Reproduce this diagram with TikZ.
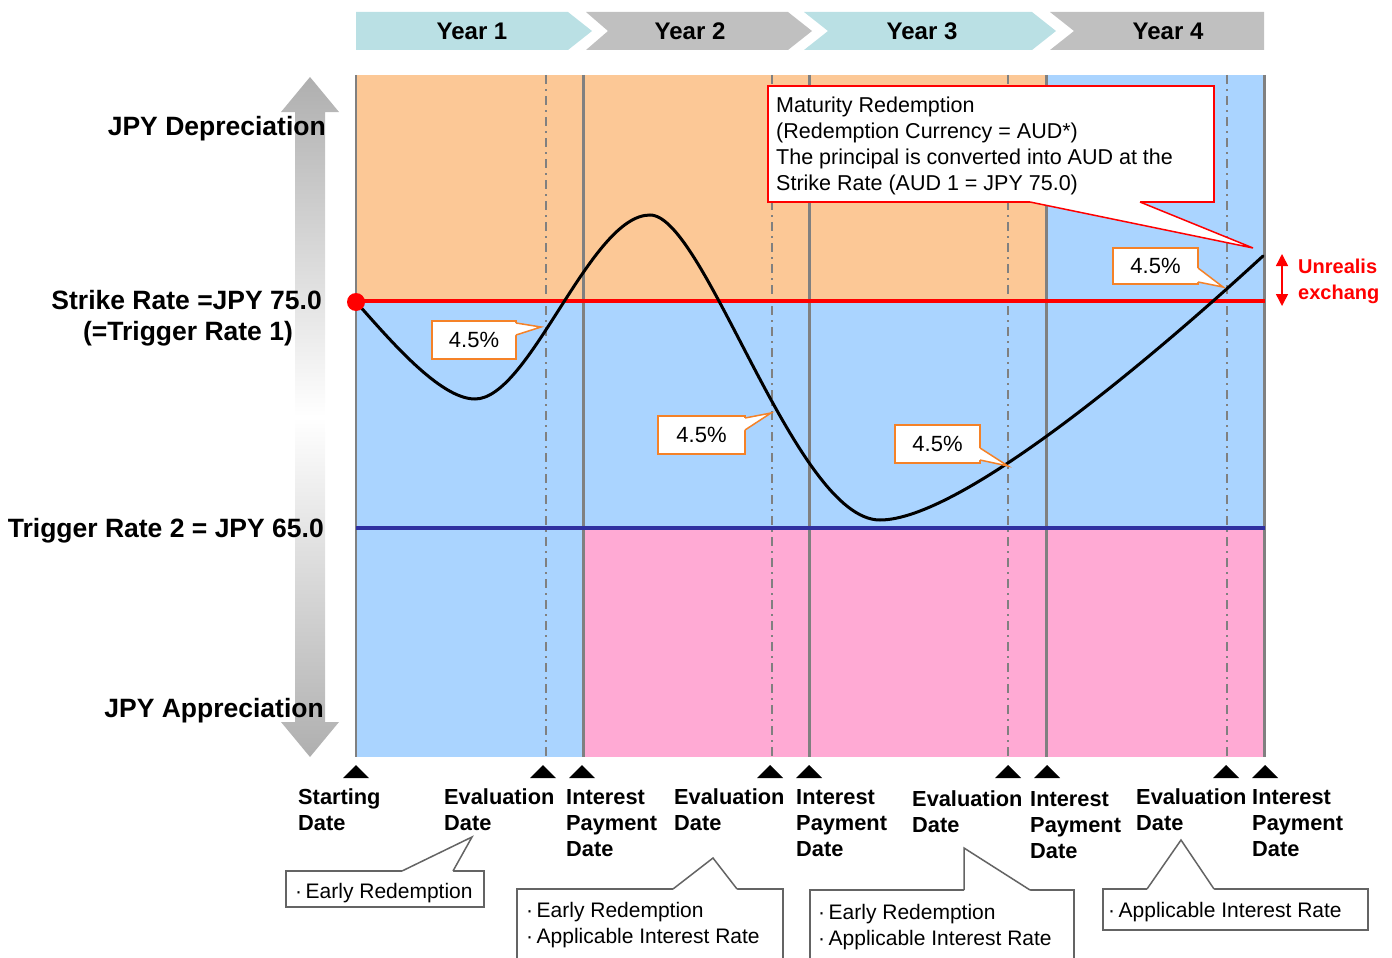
\documentclass[tikz,border=0pt]{standalone}
\usepackage{fontspec}
\setmainfont{Liberation Sans}
\usetikzlibrary{arrows.meta}
\definecolor{orng}{RGB}{252,200,150}
\definecolor{lblue}{RGB}{170,212,255}
\definecolor{lpink}{RGB}{255,170,212}
\definecolor{tealb}{RGB}{186,224,228}
\definecolor{grayb}{RGB}{192,192,192}
\definecolor{gridg}{RGB}{128,128,128}
\definecolor{dblue}{RGB}{48,48,160}
\definecolor{pctor}{RGB}{245,130,40}
\definecolor{boxg}{RGB}{100,100,100}
\definecolor{arrg}{RGB}{175,175,175}
\begin{document}
\begin{tikzpicture}[x=1pt,y=-1pt,
  yearlbl/.style={font=\fontsize{24}{28}\selectfont\bfseries, inner sep=0},
  sidelbl/.style={font=\fontsize{26.5}{30}\selectfont\bfseries, inner sep=0},
  datelbl/.style={font=\fontsize{21.8}{26}\selectfont\bfseries, inner sep=0, align=left, anchor=base west},
  gridln/.style={draw=gridg, line width=3pt},
  evalln/.style={draw=gridg, line width=1.5pt, dash pattern=on 9pt off 5pt on 2pt off 5pt},
  pctbox/.style={draw=pctor, fill=white, line width=1.5pt, inner sep=0,
     font=\fontsize{22}{26}\selectfont},
  pctptr/.style={draw=pctor, line width=1.5pt},
  notebox/.style={draw=boxg, fill=white, line width=1.5pt, inner sep=0},
  noteptr/.style={draw=boxg, line width=1.5pt},
  notetxt/.style={font=\fontsize{21}{26}\selectfont, inner sep=0, align=left, anchor=base west},
  marker/.style={fill=black},
]
\path[use as bounding box] (0,0) rectangle (1392,958);

% ---- year banner
\fill[tealb] (356,12) -- (568,12) -- (592,31) -- (568,50) -- (356,50) -- cycle;
\fill[grayb] (586,12) -- (788,12) -- (812,31) -- (788,50) -- (586,50) -- (608,31) -- cycle;
\fill[tealb] (804,12) -- (1032,12) -- (1056,31) -- (1032,50) -- (804,50) -- (828,31) -- cycle;
\fill[grayb] (1050,12) -- (1264,12) -- (1264,50) -- (1050,50) -- (1074,31) -- cycle;
\node[yearlbl] (y1) at (472,31) {Year 1};
\node[yearlbl] (y2) at (690,31) {Year 2};
\node[yearlbl] (y3) at (922,31) {Year 3};
\node[yearlbl] (y4) at (1168,31) {Year 4};

% ---- zones
\fill[orng] (356,75) rectangle (1046,301);
\fill[lblue] (1046,75) rectangle (1264,301);
\fill[lblue] (356,301) rectangle (1264,757);
\fill[lpink] (583,528) rectangle (1264,757);

% ---- vertical lines
\draw[evalln] (546,75) -- (546,757);
\draw[evalln] (772,75) -- (772,757);
\draw[evalln] (1008,75) -- (1008,757);
\draw[evalln] (1227,75) -- (1227,757);
\draw[draw=gridg, line width=1.5pt] (356,75) -- (356,757);
\draw[gridln] (583,75) -- (583,757);
\draw[gridln] (809,75) -- (809,757);
\draw[gridln] (1046,75) -- (1046,757);
\draw[gridln] (1264,75) -- (1264,757);

% ---- rate lines
\draw[red, line width=4pt] (356,301) -- (1265,301);
\draw[dblue, line width=4pt] (356,528) -- (1265,528);

% ---- exchange rate path
\draw[black, line width=3pt, line cap=round]
  (357,303) .. controls (390,340) and (440,399) .. (475,399)
            .. controls (530,399) and (590,215) .. (650,215)
            .. controls (705,215) and (795,520) .. (880,520)
            .. controls (960,520) and (1150,360) .. (1263,256);
\fill[red] (356,302) circle[radius=9];

% ---- left gradient double arrow
\shade[top color=arrg, bottom color=arrg, middle color=white]
  (310,77) -- (339,112) -- (325,112) -- (325,722) -- (339,722) -- (310,757)
  -- (281,722) -- (295,722) -- (295,112) -- (281,112) -- cycle;
\node[sidelbl, anchor=base east] (dep) at (326,135) {JPY Depreciation};
\node[sidelbl, anchor=base east] (strike) at (322,309) {Strike Rate =JPY 75.0};
\node[sidelbl, anchor=base] (trig1) at (188,340) {(=Trigger Rate 1)};
\node[sidelbl, anchor=base east] (trig2) at (324,537) {Trigger Rate 2 = JPY 65.0};
\node[sidelbl, anchor=base east] (app) at (324,717) {JPY Appreciation};

% ---- 4.5% callouts
\node[pctbox, minimum width=84pt, minimum height=38pt] (p1) at (474,340) {4.5\%};
\fill[white] (514,323) -- (516,323) -- (541,327) -- (516,335) -- (514,335) -- cycle;
\draw[pctptr] (516,323) -- (541,327) -- (516,335);

\node[pctbox, minimum width=87pt, minimum height=38pt] (p2) at (701.5,435) {4.5\%};
\fill[white] (743,418) -- (745,418) -- (771,413) -- (745,430) -- (743,430) -- cycle;
\draw[pctptr] (745,418) -- (771,413) -- (745,430);

\node[pctbox, minimum width=85pt, minimum height=38pt] (p3) at (937.5,444) {4.5\%};
\fill[white] (978,448) -- (980,448) -- (1008,466) -- (980,460) -- (978,460) -- cycle;
\draw[pctptr] (980,448) -- (1008,466) -- (980,460);

\node[pctbox, minimum width=85pt, minimum height=36pt] (p4) at (1155.5,266) {4.5\%};
\fill[white] (1196,268) -- (1198,268) -- (1223,287) -- (1198,282) -- (1196,282) -- cycle;
\draw[pctptr] (1198,268) -- (1223,287) -- (1198,282);

% ---- maturity callout
\node[draw=red, fill=white, line width=1.5pt, minimum width=446pt, minimum height=116pt, inner sep=0] (mat) at (991,144) {};
\fill[white] (1030,200) -- (1030,202) -- (1253,248) -- (1140,202) -- (1140,200) -- cycle;
\draw[red, line width=1.5pt] (1030,202) -- (1253,248) -- (1140,202);
\node[notetxt, font=\fontsize{21.5}{26}\selectfont] (mattxt) at (776,190)
 {Maturity Redemption\\(Redemption Currency = AUD*)\\The principal is converted into AUD at the\\Strike Rate (AUD 1 = JPY 75.0)};

% ---- unrealised note
\draw[red, line width=1.5pt, {Triangle[length=12pt,width=12pt]}-{Triangle[length=12pt,width=12pt]}] (1282,254) -- (1282,306);
\node[font=\fontsize{20}{26}\selectfont\bfseries, text=red, inner sep=0, align=left, anchor=base west] (unreal) at (1298,299) {Unrealis\\exchang};

% ---- markers
\foreach \mx in {356,543,582,770,809,1008,1047,1226,1265}
  \fill[marker] (\mx-13,778) -- (\mx,765) -- (\mx+13,778) -- cycle;

% ---- date labels (anchor = baseline of last line)
\node[datelbl] (d1) at (298,830) {Starting\\Date};
\node[datelbl] (d2) at (444,830) {Evaluation\\Date};
\node[datelbl] (d3) at (566,856) {Interest\\Payment\\Date};
\node[datelbl] (d4) at (674,830) {Evaluation\\Date};
\node[datelbl] (d5) at (796,856) {Interest\\Payment\\Date};
\node[datelbl] (d6) at (912,832) {Evaluation\\Date};
\node[datelbl] (d7) at (1030,858) {Interest\\Payment\\Date};
\node[datelbl] (d8) at (1136,830) {Evaluation\\Date};
\node[datelbl] (d9) at (1252,856) {Interest\\Payment\\Date};

% ---- bottom notes
\node[notebox, minimum width=198pt, minimum height=36pt] (b1) at (385,889) {};
\fill[white] (402,873) -- (402,871) -- (472,837) -- (453,871) -- (453,873) -- cycle;
\draw[noteptr] (402,871) -- (472,837) -- (453,871);
\node[notetxt] (b1t) at (295,898) {·\,Early Redemption};

\begin{scope}
\clip (0,0) rectangle (1392,958);
\node[notebox, minimum width=266pt, minimum height=80pt] (b2) at (650,929) {};
\fill[white] (673,891) -- (673,889) -- (713,858) -- (737,889) -- (737,891) -- cycle;
\draw[noteptr] (673,889) -- (713,858) -- (737,889);
\node[notebox, minimum width=264pt, minimum height=80pt] (b3) at (942,930) {};
\fill[white] (964,892) -- (964,890) -- (964,848) -- (1030,890) -- (1030,892) -- cycle;
\draw[noteptr] (964,890) -- (964,848) -- (1030,890);
\end{scope}
\node[notetxt] (b2t) at (526,943) {·\,Early Redemption\\·\,Applicable Interest Rate};
\node[notetxt] (b3t) at (818,945) {·\,Early Redemption\\·\,Applicable Interest Rate};

\node[notebox, minimum width=265pt, minimum height=41pt] (b4) at (1235.5,909.5) {};
\fill[white] (1147,891) -- (1147,889) -- (1181,840) -- (1214,889) -- (1214,891) -- cycle;
\draw[noteptr] (1147,889) -- (1181,840) -- (1214,889);
\node[notetxt] (b4t) at (1108,917) {·\,Applicable Interest Rate};
\end{tikzpicture}
\end{document}
